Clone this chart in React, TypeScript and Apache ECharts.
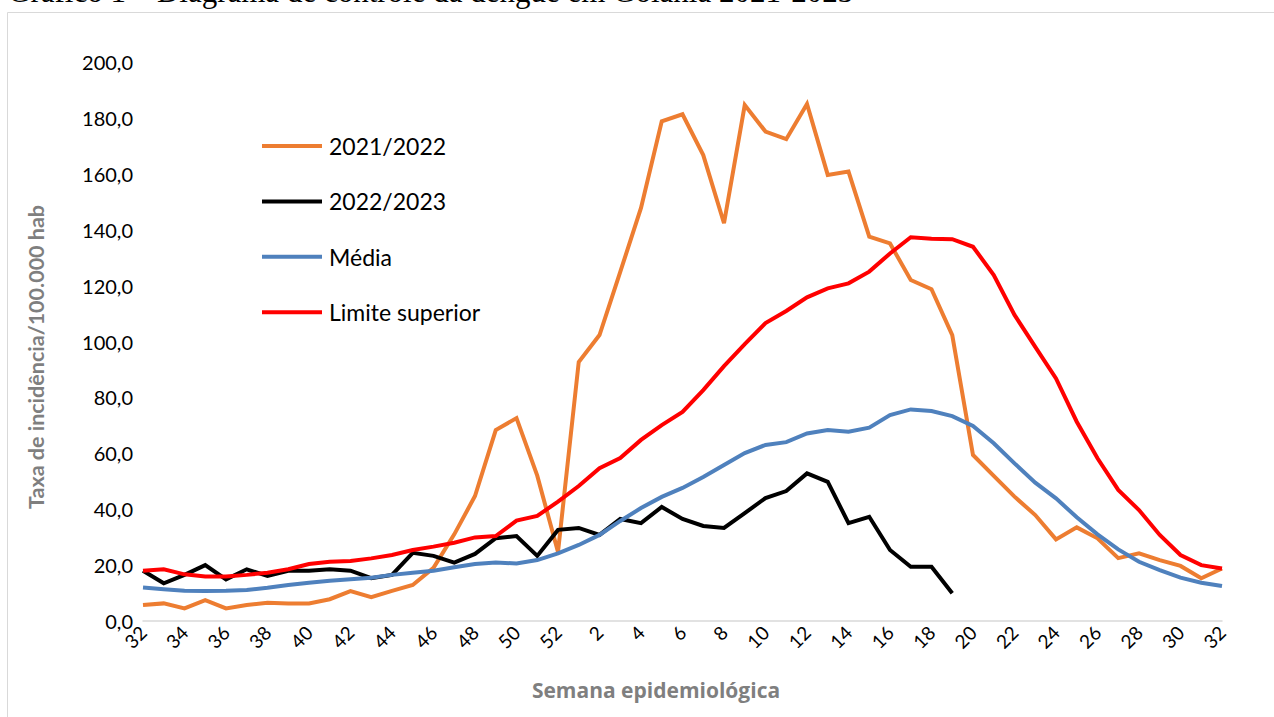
import React, { useEffect, useRef } from "react";
import * as echarts from "echarts";

const weeks: string[] = [
  "32","33","34","35","36","37","38","39","40","41","42","43","44","45","46","47","48","49","50","51","52",
  "1","2","3","4","5","6","7","8","9","10","11","12","13","14","15","16","17","18","19","20",
  "21","22","23","24","25","26","27","28","29","30","31","32",
];

const s2021: number[] = [
  5.7, 6.3, 4.5, 7.5, 4.5, 5.7, 6.5, 6.3, 6.3, 7.8, 10.7, 8.5, 10.8, 12.9, 19.0, 31.0, 44.7, 68.3, 72.6, 52.0, 24.7,
  92.7, 102.3, 124.9, 147.8, 178.8, 181.3, 166.7, 142.3, 184.6, 175.1, 172.4, 185.0, 159.6, 160.8, 137.5, 135.1, 122.0, 118.7, 102.3, 59.4,
  51.9, 44.5, 37.9, 29.2, 33.5, 29.6, 22.5, 24.2, 21.8, 19.7, 15.3, 18.8,
];

const s2022: (number | null)[] = [
  18.0, 13.5, 16.5, 20.0, 14.9, 18.5, 16.1, 18.0, 18.0, 18.5, 18.0, 15.3, 16.5, 24.4, 23.3, 20.9, 24.0, 29.6, 30.4, 23.3, 32.6,
  33.3, 30.8, 36.5, 35.0, 40.8, 36.5, 34.0, 33.3, 38.6, 44.0, 46.5, 52.8, 49.8, 35.0, 37.3, 25.4, 19.4, 19.4, 9.9, null,
  null, null, null, null, null, null, null, null, null, null, null, null,
];

const media: number[] = [
  12.0, 11.4, 10.8, 10.7, 10.8, 11.1, 11.9, 12.9, 13.7, 14.4, 14.9, 15.5, 16.5, 17.3, 18.0, 19.2, 20.4, 20.9, 20.6, 21.8, 24.2,
  27.2, 30.8, 35.8, 40.4, 44.4, 47.6, 51.5, 55.8, 60.1, 63.0, 64.0, 67.1, 68.3, 67.7, 69.2, 73.7, 75.7, 75.1, 73.3, 69.8,
  63.6, 56.4, 49.5, 43.9, 37.1, 31.0, 25.6, 21.2, 18.2, 15.5, 13.7, 12.5,
];

const limite: number[] = [
  18.0, 18.5, 16.7, 15.9, 15.9, 16.5, 17.3, 18.5, 20.4, 21.2, 21.5, 22.4, 23.6, 25.4, 26.6, 28.0, 29.9, 30.4, 35.9, 37.6, 42.7,
  48.3, 54.7, 58.3, 64.8, 70.1, 74.8, 82.6, 91.2, 99.1, 106.6, 110.9, 115.8, 119.0, 120.8, 125.0, 131.5, 137.3, 136.8, 136.6, 133.9,
  123.8, 109.5, 98.1, 86.8, 71.3, 58.2, 46.9, 39.7, 30.8, 23.6, 20.0, 18.8,
];

const seriesNames = ["2021/2022", "2022/2023", "Média", "Limite superior"];
const seriesColors = ["#ED7D31", "#000000", "#4F81BD", "#FF0000"];

const FONT = "Lato, 'Noto Sans', sans-serif";

export default function App() {
  const ref = useRef<HTMLDivElement>(null);
  useEffect(() => {
    if (!ref.current) return;
    const chart = echarts.init(ref.current, undefined, { renderer: "svg" });
    const datas = [s2021, s2022, media, limite];
    chart.setOption({
      animation: false,
      backgroundColor: "#ffffff",
      grid: { left: 143, right: 52, top: 62, bottom: 96, containLabel: false },
      legend: {
        orient: "vertical",
        left: 262,
        top: 133,
        padding: 0,
        icon: "rect",
        itemWidth: 60,
        itemHeight: 4,
        itemGap: 29.4,
        data: seriesNames,
        textStyle: { fontFamily: FONT, fontSize: 23, color: "#000", lineHeight: 26, padding: [0, 0, 0, 2] },
      },
      xAxis: {
        type: "category",
        data: weeks,
        boundaryGap: false,
        axisLine: { lineStyle: { color: "#d9d9d9", width: 1.5 } },
        axisTick: { show: false },
        axisLabel: {
          interval: 1,
          rotate: 45,
          margin: 8,
          fontFamily: FONT,
          fontSize: 19,
          color: "#000",
        },
        splitLine: { show: false },
      },
      yAxis: {
        type: "value",
        min: 0,
        max: 200,
        interval: 20,
        axisLine: { show: false },
        axisTick: { show: false },
        splitLine: { show: false },
        axisLabel: {
          margin: 10,
          fontFamily: FONT,
          fontSize: 20,
          color: "#000",
          formatter: (v: number) => v.toFixed(1).replace(".", ","),
        },
      },
      series: seriesNames.map((name, k) => ({
        name,
        type: "line",
        data: datas[k],
        symbol: "none",
        connectNulls: false,
        itemStyle: { color: seriesColors[k] },
        lineStyle: { color: seriesColors[k], width: 4, join: "miter" },
        z: 2 + k,
      })),
      graphic: [
        {
          type: "rect",
          shape: { x: 7.5, y: 12.5, width: 1300, height: 800 },
          style: { fill: "none", stroke: "#d9d9d9", lineWidth: 1 },
          silent: true,
          z: -1,
        },
        {
          type: "text",
          x: 8,
          y: 7,
          style: {
            text: "Gráfico 1 – Diagrama de controle da dengue em Goiânia 2021-2023",
            font: "31px 'Liberation Serif', 'Times New Roman', serif",
            fill: "#000",
            verticalAlign: "bottom",
          },
        },
        {
          type: "text",
          x: 36,
          y: 357,
          rotation: Math.PI / 2,
          style: {
            text: "Taxa de incidência/100.000 hab",
            font: `bold 21.5px ${FONT}`,
            fill: "#7f7f7f",
            align: "center",
            verticalAlign: "middle",
          },
        },
        {
          type: "text",
          x: 656,
          y: 690,
          style: {
            text: "Semana epidemiológica",
            font: `bold 21px 'Open Sans', ${FONT}`,
            fill: "#7f7f7f",
            align: "center",
            verticalAlign: "middle",
          },
        },
      ],
    });
    return () => chart.dispose();
  }, []);
  return (
    <div
      ref={ref}
      style={{ position: "fixed", left: 0, top: 0, width: 1274, height: 717 }}
    />
  );
}
